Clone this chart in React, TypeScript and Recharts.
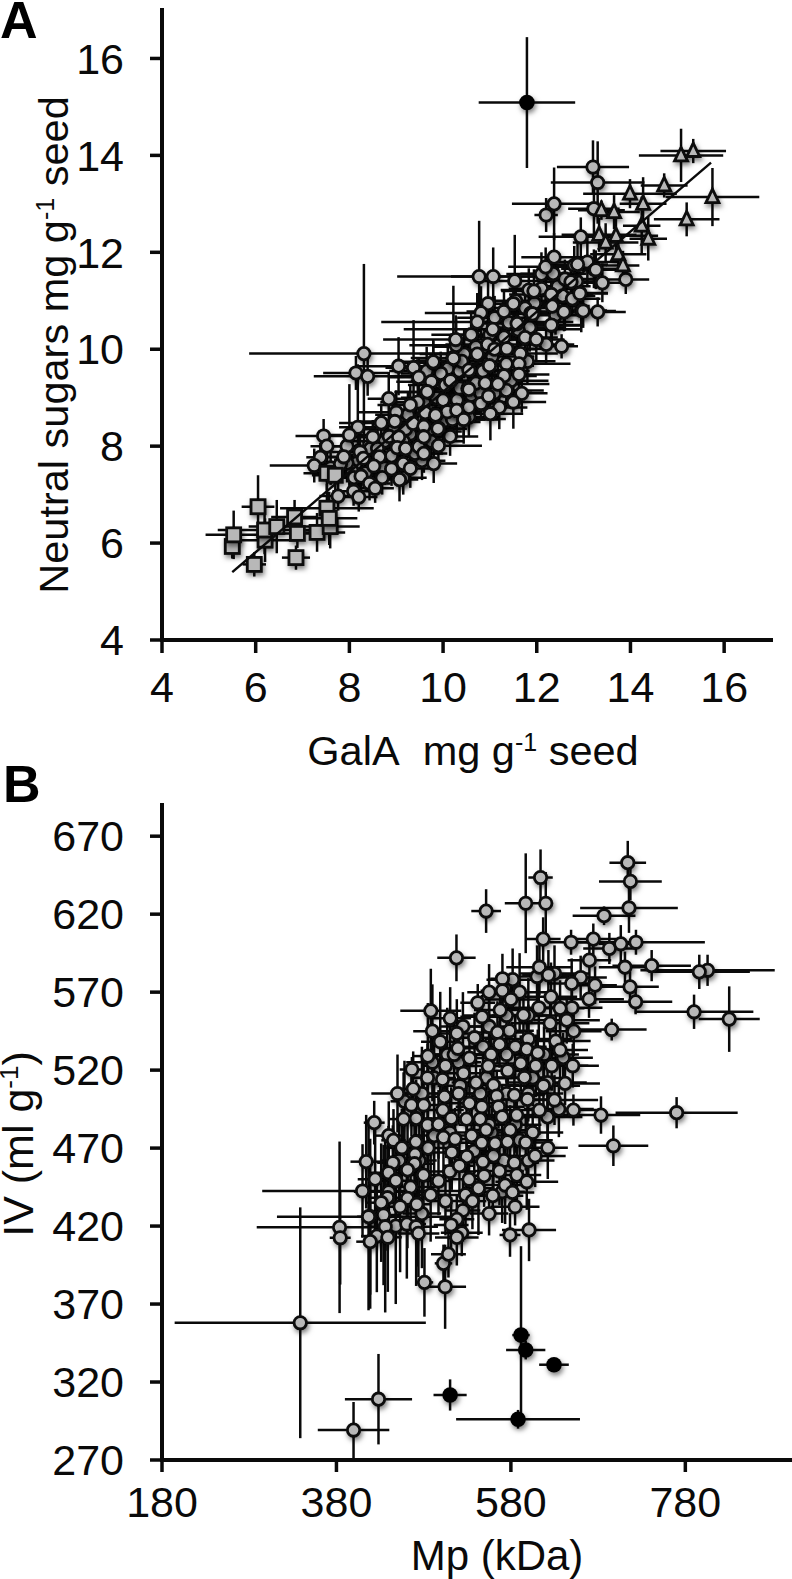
import { ScatterChart, Scatter, XAxis, YAxis, ErrorBar } from "recharts";

const FONT = "'Liberation Sans', Arial, sans-serif";

type Row = [number, number, number, number]; // x, y, x error, y error

// panel A
const xTicksA = [4, 6, 8, 10, 12, 14, 16];
const yTicksA = [4, 6, 8, 10, 12, 14, 16];

const circlesA: Row[] = [
  [9.05, 8.05, 0.7, 0.4], [9.3, 8.25, 0.65, 0.35], [9.7, 8.3, 0.7, 0.4], [10.0, 8.5, 0.8, 0.4], [10.3, 8.95, 0.75, 0.4],
  [10.6, 9.05, 0.8, 0.45], [10.8, 9.1, 0.9, 0.4], [11.1, 9.1, 0.8, 0.4], [11.35, 9.7, 0.85, 0.45], [11.05, 9.85, 0.9, 0.5],
  [10.7, 10.05, 0.9, 0.5], [10.45, 9.9, 0.95, 0.5], [10.1, 9.6, 0.9, 0.5], [10.35, 9.55, 0.85, 0.45], [9.85, 9.0, 0.75, 0.4],
  [9.55, 8.75, 0.7, 0.4], [9.25, 8.65, 0.7, 0.45], [8.95, 8.35, 0.65, 0.4], [8.75, 8.1, 0.7, 0.4], [8.45, 7.95, 0.55, 0.4],
  [8.15, 7.65, 0.55, 0.4], [8.75, 7.55, 0.5, 0.35], [9.15, 7.35, 0.5, 0.35], [9.55, 7.7, 0.5, 0.4], [10.15, 8.2, 0.6, 0.4],
  [10.55, 8.6, 0.65, 0.4], [11.2, 8.8, 0.6, 0.45], [11.45, 9.35, 0.8, 0.4], [11.8, 9.75, 0.6, 0.45], [12.2, 10.1, 0.6, 0.4],
  [12.4, 10.7, 0.65, 0.4], [11.85, 10.45, 0.75, 0.5], [11.4, 10.55, 0.8, 0.5], [11.0, 10.3, 0.85, 0.55], [12.1, 11.55, 0.75, 0.45],
  [12.45, 11.3, 0.7, 0.45], [12.85, 11.4, 0.6, 0.45], [7.6, 7.55, 0.45, 0.35], [7.95, 8.0, 0.5, 0.4], [8.05, 7.5, 0.5, 0.35],
  [10.35, 9.2, 0.8, 0.4], [10.7, 9.3, 0.9, 0.45], [10.4, 9.75, 1, 0.5], [10.85, 9.55, 1, 0.45],
  [10.0, 8.95, 0.8, 0.4], [9.6, 8.9, 0.7, 0.4], [9.2, 8.35, 0.7, 0.4], [8.85, 8.2, 0.75, 0.35],
  [8.6, 7.95, 0.7, 0.4], [9.4, 7.85, 0.6, 0.35], [9.75, 8.1, 0.7, 0.4], [8.35, 7.45, 0.6, 0.35],
  [8.7, 7.35, 0.55, 0.35], [10.6, 10.3, 0.85, 0.45], [10.95, 10.1, 0.9, 0.5], [11.3, 10.25, 0.8, 0.45],
  [11.6, 10.4, 0.75, 0.45], [11.1, 10.65, 0.8, 0.45], [11.55, 11.0, 0.7, 0.45], [11.95, 10.95, 0.7, 0.4],
  [12.1, 11.25, 0.7, 0.4], [12.6, 11.45, 0.6, 0.4], [12.55, 11.1, 0.7, 0.4], [11.75, 10.85, 0.7, 0.4],
  [10.9, 9.3, 0.8, 0.4], [11.3, 9.45, 0.7, 0.4], [11.35, 9.15, 0.8, 0.35], [10.2, 8.55, 0.7, 0.4],
  [10.55, 8.8, 0.8, 0.4], [9.95, 9.5, 0.85, 0.45], [9.65, 9.55, 0.8, 0.5], [9.0, 8.7, 0.8, 0.45],
  [8.9, 7.8, 0.55, 0.35], [8.1, 7.35, 0.5, 0.4], [7.95, 7.65, 0.5, 0.4], [9.15, 8.1, 0.65, 0.35],
  [8.31, 9.91, 2.45, 1.85], [8.14, 9.51, 0.7, 0.35], [8.39, 9.44, 1.15, 0.4], [9.05, 9.65, 0.9, 0.6],
  [9.37, 9.62, 0.6, 0.98], [9.79, 9.72, 0.7, 0.45], [10.21, 9.82, 0.9, 0.5], [10.28, 10.08, 1.0, 0.55],
  [9.48, 9.42, 0.65, 0.4], [9.75, 9.33, 0.75, 0.4], [10.16, 9.35, 0.85, 0.4], [10.53, 9.19, 0.9, 0.45],
  [9.67, 9.12, 0.7, 0.4], [10.05, 9.26, 0.8, 0.45], [8.84, 8.98, 0.45, 0.55], [9.46, 8.91, 0.8, 0.4],
  [9.3, 8.85, 0.7, 0.4], [10.29, 8.74, 0.8, 0.4], [10.44, 8.56, 0.9, 0.4], [9.85, 8.64, 0.65, 0.4],
  [9.62, 8.69, 0.7, 0.45], [8.68, 8.48, 0.9, 0.4], [8.97, 8.51, 0.8, 0.45], [9.36, 8.47, 0.7, 0.4],
  [9.59, 8.41, 0.7, 0.4], [9.91, 8.36, 0.6, 0.45], [10.09, 8.71, 0.7, 0.4], [8.18, 8.39, 0.4, 1.3],
  [8.0, 8.23, 0.5, 1.05], [7.45, 8.21, 0.6, 0.35], [7.52, 8.0, 0.35, 0.3], [7.38, 7.77, 0.3, 0.3],
  [7.25, 7.6, 0.95, 0.35], [8.5, 8.19, 0.5, 0.35], [9.05, 8.19, 0.6, 0.4], [9.57, 8.19, 0.55, 0.4],
  [9.02, 7.97, 0.5, 0.35], [9.2, 7.95, 0.6, 0.4], [9.48, 7.99, 0.5, 0.4], [9.9, 8.01, 0.93, 0.45],
  [8.23, 7.88, 0.6, 0.4], [8.64, 7.78, 0.65, 0.35], [8.3, 7.75, 0.55, 0.35], [7.81, 7.63, 0.5, 0.3],
  [7.88, 7.78, 0.45, 0.35], [8.52, 7.59, 0.55, 0.35], [8.9, 7.53, 0.45, 0.35], [9.15, 7.64, 0.5, 0.45],
  [9.3, 7.54, 0.5, 0.4], [9.8, 7.64, 0.5, 0.4], [9.59, 7.85, 0.5, 0.4], [8.25, 7.38, 0.45, 0.35],
  [8.43, 7.23, 0.45, 0.35], [9.07, 7.31, 0.4, 0.45], [8.55, 7.13, 0.4, 0.3], [8.09, 7.07, 0.45, 0.3],
  [8.2, 6.95, 0.4, 0.3], [7.76, 6.97, 0.4, 0.3],
  [10.77, 11.5, 1.75, 1.15], [11.07, 11.5, 0.9, 0.6], [11.53, 11.41, 0.7, 0.95], [11.83, 11.22, 0.6, 0.45],
  [12.35, 11.56, 0.7, 0.45], [12.31, 11.13, 0.9, 0.4], [12.92, 11.16, 0.6, 0.4], [12.6, 10.78, 0.8, 0.4],
  [12.95, 10.8, 0.55, 0.45], [13.3, 10.77, 0.6, 0.3], [13.22, 11.66, 0.7, 0.4], [12.8, 11.73, 0.7, 0.4],
  [10.96, 10.94, 0.9, 0.6], [10.81, 10.75, 1.2, 0.55], [10.73, 10.56, 2.05, 0.6], [11.3, 10.78, 0.8, 0.45],
  [11.5, 10.94, 0.8, 0.5], [11.87, 10.74, 0.75, 0.45], [12.33, 10.89, 0.8, 0.45], [11.58, 10.53, 0.7, 0.5],
  [12.32, 10.49, 0.6, 0.35], [11.06, 10.41, 1.9, 0.6], [11.75, 10.24, 0.7, 0.5], [11.99, 10.2, 0.6, 0.45],
  [12.53, 10.06, 0.35, 0.25], [10.27, 10.2, 1.55, 0.5], [10.22, 9.81, 0.8, 1.5], [10.73, 9.9, 0.95, 0.5],
  [11.1, 10.0, 0.9, 0.5], [11.36, 10.01, 0.85, 0.45], [10.99, 9.66, 0.95, 0.45], [10.55, 9.57, 1.0, 0.4],
  [11.65, 9.91, 0.8, 0.4], [11.62, 9.7, 1.1, 0.45], [11.62, 9.48, 0.65, 0.4], [9.79, 9.74, 0.8, 0.45],
  [10.16, 9.35, 0.8, 0.4], [9.66, 9.12, 0.7, 0.4], [10.55, 9.17, 0.85, 0.45], [11.17, 9.28, 1.1, 0.4],
  [11.68, 9.09, 0.55, 0.4], [11.5, 8.91, 0.7, 0.55], [10.81, 8.88, 0.8, 0.35], [10.97, 9.03, 0.75, 0.4],
  [10.29, 8.74, 0.7, 0.55], [9.84, 8.64, 0.6, 0.45], [10.44, 8.55, 0.75, 0.5], [11.01, 8.67, 0.7, 0.55],
  [9.89, 8.36, 0.6, 0.45], [9.59, 8.19, 0.55, 0.4],
  [12.19, 11.7, 0.8, 0.4], [11.94, 11.2, 0.7, 0.45], [11.91, 10.73, 0.7, 0.4], [12.76, 11.04, 0.6, 0.35],
  [12.73, 11.39, 0.6, 0.4], [12.37, 11.9, 0.7, 0.5], [13.08, 11.8, 0.65, 0.5], [13.26, 11.64, 0.55, 0.4],
  [12.87, 11.75, 0.65, 0.45], [13.9, 11.44, 0.5, 0.3], [13.4, 11.37, 0.55, 0.4], [12.92, 11.15, 0.6, 0.45],
  [12.58, 10.77, 0.6, 0.4], [12.99, 10.79, 0.7, 0.35], [12.31, 10.5, 0.7, 0.4],
  [13.22, 12.9, 0.55, 0.55], [12.94, 12.32, 0.9, 0.4], [12.2, 12.77, 0.25, 0.35], [12.37, 13.0, 0.9, 0.75],
  [13.3, 13.44, 1.0, 0.85], [13.2, 13.76, 0.77, 0.55],
];

const squaresA: Row[] = [
  [5.5, 5.93, 0.1, 0.25], [5.53, 6.17, 0.6, 0.5], [5.97, 5.56, 0.25, 0.25], [6.05, 6.75, 0.35, 0.65],
  [6.2, 6.06, 0.7, 0.45], [6.19, 6.27, 1.0, 0.5], [6.45, 6.34, 0.6, 0.55], [6.83, 6.54, 0.5, 0.35],
  [6.89, 6.2, 0.5, 0.3], [6.86, 5.7, 0.3, 0.25], [7.31, 6.22, 0.6, 0.4], [7.52, 6.72, 1.0, 0.5],
  [7.59, 6.34, 0.63, 0.45], [7.57, 6.51, 0.6, 0.55], [7.52, 7.44, 0.5, 0.35], [7.7, 7.4, 0.5, 0.35],
];

const trianglesA: Row[] = [
  [15.08, 14.0, 0.9, 0.55], [15.34, 14.09, 0.7, 0.25], [14.72, 13.38, 0.5, 0.25], [13.99, 13.21, 1.0, 0.3],
  [14.27, 13.0, 0.5, 0.55], [15.75, 13.14, 1.0, 0.6], [13.38, 12.87, 0.5, 0.2], [13.65, 12.83, 0.55, 0.35],
  [14.24, 12.55, 0.4, 0.6], [15.2, 12.68, 0.7, 0.35], [13.33, 12.36, 0.8, 0.35], [13.69, 12.34, 0.9, 0.5],
  [14.38, 12.28, 0.4, 0.45], [13.47, 12.2, 0.7, 0.4], [13.74, 11.96, 0.6, 0.35], [13.84, 11.73, 0.35, 0.3],
];

const blackA: Row[] = [[11.79, 15.09, 1.03, 1.35]];

const fitA = [
  { x: 5.5, y: 5.4 },
  { x: 15.72, y: 13.85 },
];

// panel B
const xTicksB = [180, 380, 580, 780];
const yTicksB = [270, 320, 370, 420, 470, 520, 570, 620, 670];

const circlesB: Row[] = [
  [478, 505, 22, 30], [492, 515, 25, 28], [507, 530, 24, 30], [525, 548, 26, 22], [555, 548, 28, 20], [585, 535, 36, 20],
  [618, 530, 40, 18], [600, 505, 40, 18], [575, 505, 36, 18], [552, 515, 30, 18], [522, 510, 26, 18], [492, 478, 24, 28],
  [510, 480, 24, 22], [538, 468, 26, 22], [558, 480, 28, 18], [585, 485, 30, 18], [605, 480, 35, 16], [622, 490, 40, 14],
  [570, 442, 26, 20], [555, 428, 22, 14], [525, 430, 20, 20], [505, 436, 18, 22], [488, 440, 22, 30], [478, 428, 22, 35],
  [448, 420, 20, 50], [452, 462, 20, 30], [440, 478, 16, 22], [468, 508, 18, 24], [458, 500, 16, 26], [532, 450, 24, 22],
  [612, 560, 40, 20], [600, 555, 42, 24], [582, 578, 30, 20], [555, 570, 25, 18], [630, 582, 40, 18], [652, 545, 32, 16],
  [640, 528, 34, 16], [520, 525, 26, 20], [545, 505, 30, 16], [490, 545, 22, 30], [475, 462, 20, 30], [600, 462, 30, 15],
  [490, 525, 30, 25], [515, 530, 35, 22], [548, 535, 30, 20], [575, 530, 40, 18], [605, 515, 40, 18],
  [520, 505, 30, 20], [555, 485, 35, 22], [590, 475, 38, 20], [485, 470, 35, 25], [510, 455, 30, 20],
  [535, 478, 35, 18], [600, 540, 50, 22], [625, 550, 45, 20], [650, 560, 35, 18], [610, 580, 45, 20],
  [590, 570, 40, 25], [575, 555, 50, 22], [440, 442, 40, 30], [465, 445, 32, 28], [528, 440, 30, 25],
  [572, 462, 32, 20], [622, 512, 45, 18], [635, 495, 40, 18], [560, 465, 30, 22], [450, 505, 30, 25],
  [614, 643.5, 14, 18], [620, 627, 5, 20], [597, 627, 24, 32], [551.6, 622, 17, 14], [517.6, 592, 22, 15],
  [714, 653, 21, 14], [717, 641, 36, 12], [715.4, 624, 56, 16], [686.8, 619, 36, 6], [617, 604, 20, 14],
  [649, 602, 25, 8], [674.5, 604, 30, 10], [692.9, 598, 30, 10], [706, 601, 25, 12], [723.4, 602, 79, 8],
  [670, 590.5, 25, 15], [710.8, 586, 30, 10], [741.4, 587, 45, 10], [805.5, 584, 77, 10], [796, 583, 58, 11],
  [612.7, 586, 38, 18], [623, 581, 30, 16], [570.3, 578.6, 14, 16], [660, 579.4, 30, 14], [649.7, 575.6, 28, 16],
  [676.5, 574.5, 25, 12], [716.6, 573.4, 33, 10], [626, 567, 30, 22], [570.3, 570.9, 25, 12], [580, 565.3, 30, 14],
  [669.6, 565.5, 40, 12], [723, 563.8, 42, 8], [636.4, 559.6, 28, 18], [542, 563.2, 20, 12], [488.2, 558, 35, 27],
  [567.7, 558.5, 30, 15], [594.4, 555.3, 22, 16], [644, 552, 38, 15], [547, 554.2, 25, 14], [510.4, 553.2, 24, 20],
  [790, 557.4, 68, 11], [830.3, 552.7, 35, 21], [695.6, 546, 40, 7], [578.3, 545.2, 28, 18], [564.6, 544.2, 30, 20],
  [518, 543.5, 25, 22], [538.3, 540.8, 22, 16], [499, 538.2, 22, 32], [631.4, 538.6, 40, 18], [567, 536.5, 30, 15],
  [519.2, 534, 22, 18], [598.2, 533.3, 35, 22], [636.4, 532.9, 32, 20], [484.8, 529, 18, 34], [557.3, 530, 30, 15],
  [532.5, 527.7, 28, 16], [610.8, 531, 35, 15], [505, 522.8, 28, 16], [591.3, 524.3, 32, 18], [608.5, 522.8, 36, 20],
  [626.8, 522.8, 42, 16], [650.9, 522.8, 30, 14], [466.5, 520.4, 14, 8], [576.4, 519.6, 25, 18], [554, 522.6, 30, 14],
  [540, 512, 28, 18], [484.4, 515.1, 18, 22], [501.6, 514, 22, 20], [595.5, 515.3, 35, 18], [642.1, 511.5, 40, 14],
  [617.3, 510, 42, 18], [525.6, 518, 24, 16], [560, 510.4, 30, 16], [584, 504, 35, 20], [503.9, 503, 25, 20],
  [563.8, 503.4, 30, 16], [599, 501.2, 36, 18], [630, 500.8, 50, 16], [532.5, 498.7, 28, 14], [466, 497.6, 14, 20],
  [480, 497.6, 20, 35], [546.7, 496.5, 30, 18], [612.7, 494.4, 40, 16], [651.7, 494.4, 28, 10], [502, 494.4, 24, 18],
  [770, 492.7, 70, 10], [565.8, 496.5, 30, 14], [683.3, 491.2, 45, 12], [586.7, 491.2, 40, 16], [570, 490, 32, 20],
  [471.4, 489, 18, 25], [457, 488.6, 16, 30], [511.6, 489, 25, 20], [529.2, 488.6, 24, 22], [544.7, 488.6, 28, 22],
  [484.4, 484.8, 20, 24], [497, 485.2, 22, 22], [423.3, 486.3, 12, 14], [551.6, 481.6, 22, 18], [579.1, 481.5, 24, 16],
  [502.7, 476.9, 20, 25], [516, 475.8, 22, 20], [546.6, 473.4, 25, 18], [562, 473, 22, 20], [576.1, 474, 26, 14],
  [597, 473.6, 28, 18], [471, 474, 18, 30], [445.4, 475, 14, 20], [455, 470.2, 18, 25], [512.2, 467.2, 22, 24],
  [470.2, 466, 20, 32], [529.4, 464.5, 25, 22], [622.3, 470.2, 23, 20], [547.8, 461.2, 26, 18], [584, 460.6, 28, 15],
  [607.8, 465, 35, 20], [521, 458.7, 18, 20], [444.7, 460.6, 18, 24], [469.5, 460, 22, 28], [414.1, 461.3, 18, 30],
  [461.5, 456, 22, 30], [479.8, 452.7, 20, 35], [549.3, 452.3, 24, 20], [439.7, 454.2, 22, 30], [424.4, 450.1, 20, 35],
  [448.1, 449.1, 20, 30], [497, 448.9, 16, 22], [566.9, 455.3, 28, 22], [586.8, 452.7, 28, 18], [598.2, 448.4, 36, 18],
  [573.4, 446.3, 24, 25], [542.8, 444.2, 18, 30], [581.8, 441.6, 25, 14], [409.9, 442.5, 115, 30], [559.2, 439.5, 35, 12],
  [461.4, 437.8, 22, 32], [438.5, 438.2, 20, 34], [535.9, 436, 16, 18], [431.3, 435, 18, 38], [584.8, 432.4, 28, 12],
  [453, 432.4, 20, 42], [472.1, 434, 16, 40], [434, 427.1, 20, 45], [418.7, 426, 15, 50], [416.8, 426, 105, 60],
  [518, 424.3, 20, 16], [460.7, 421.3, 22, 35], [471.4, 419.6, 25, 38], [511.5, 420.7, 20, 18], [435.9, 419.6, 18, 55],
  [523.7, 415.7, 24, 15], [600.8, 417.5, 31, 20], [383.6, 419.2, 95, 55], [579, 414.3, 12, 14], [474, 415.3, 24, 28],
  [426.3, 413.6, 18, 36], [438.9, 412.8, 16, 35], [384.3, 412.5, 12, 30], [518, 412.7, 25, 18], [418.7, 410, 16, 43],
  [502.7, 396.1, 10, 12], [508.4, 402, 20, 15], [480.9, 383.9, 10, 22], [504.6, 381.1, 24, 27],
  [338.5, 358, 144, 74], [428.2, 309, 38.5, 29], [399.6, 289.2, 41, 18], [697.5, 471.5, 40, 13],
];

const blackB: Row[] = [
  [510.3, 311.7, 19, 10], [588.2, 296.1, 71, 6], [591.6, 350.1, 10, 57], [597, 340.5, 22.5, 6], [629.4, 331.1, 17, 2],
];

const toPoints = (rows: Row[]) =>
  rows.map(([x, y, xe, ye]) => ({ x, y, xe, ye }));

const GRAY = "#b8b8b8";
const INK = "#0a0a0a";

function Dot(props: any) {
  return (
    <circle cx={props.cx} cy={props.cy} r={6.2} fill={GRAY} stroke={INK} strokeWidth={2.8} filter="url(#soft)" />
  );
}

function BlackDot(props: any) {
  return <circle cx={props.cx} cy={props.cy} r={7.8} fill="#000" filter="url(#soft)" />;
}

function SquareMark(props: any) {
  return (
    <rect x={props.cx - 7} y={props.cy - 7} width={14} height={14} fill={GRAY} stroke={INK} strokeWidth={2.8} filter="url(#soft)" />
  );
}

function TriangleMark(props: any) {
  const { cx, cy } = props;
  return (
    <path
      d={`M${cx} ${cy - 8}L${cx + 6.5} ${cy + 5.5}L${cx - 6.5} ${cy + 5.5}Z`}
      fill={GRAY}
      stroke={INK}
      strokeWidth={2.8}
      strokeLinejoin="miter"
      filter="url(#soft)"
    />
  );
}

function NoMark() {
  return null;
}

const axisLine = { stroke: INK, strokeWidth: 4, strokeLinecap: "square" as const };
const tickLine = { stroke: INK, strokeWidth: 3.5 };
const tick = { fontSize: 43, fontFamily: FONT, fill: INK };

function series(rows: Row[], shape: any, name: string) {
  return (
    <Scatter key={name} name={name} data={toPoints(rows)} shape={shape} isAnimationActive={false}>
      <ErrorBar dataKey="xe" direction="x" width={0} stroke={INK} strokeWidth={2.5} isAnimationActive={false} />
      <ErrorBar dataKey="ye" direction="y" width={0} stroke={INK} strokeWidth={2.5} isAnimationActive={false} />
    </Scatter>
  );
}

function Soft() {
  return (
    <defs>
      <filter id="soft" x="-100%" y="-100%" width="300%" height="300%">
        <feDropShadow dx="1.5" dy="3" stdDeviation="2.8" floodColor="#000" floodOpacity="0.5" />
      </filter>
    </defs>
  );
}

export default function App() {
  return (
    <div style={{ position: "absolute", left: 0, top: 0, width: 792, height: 1579, background: "#fff", overflow: "hidden" }}>
      <div style={{ position: "absolute", left: 0, top: 0 }}>
        <ScatterChart width={792} height={760} margin={{ top: 10, right: 21, bottom: 0, left: 0 }}>
          <Soft />
          <XAxis
            type="number"
            dataKey="x"
            domain={[4, 17]}
            ticks={xTicksA}
            interval={0}
            height={120}
            tickSize={13}
            tickMargin={18}
            tick={tick}
            tickLine={tickLine}
            axisLine={axisLine}
          />
          <YAxis
            type="number"
            dataKey="y"
            domain={[4, 17]}
            ticks={yTicksA}
            interval={0}
            width={162}
            tickSize={12}
            tickMargin={26}
            tick={tick}
            tickLine={tickLine}
            axisLine={axisLine}
          />
          {series(circlesA, Dot, "circles")}
          {series(squaresA, SquareMark, "squares")}
          {series(trianglesA, TriangleMark, "triangles")}
          {series(blackA, BlackDot, "black")}
          <Scatter
            name="fit"
            data={fitA}
            line={{ stroke: INK, strokeWidth: 2.4 }}
            shape={NoMark}
            isAnimationActive={false}
          />
          <text x={0} y={38} fontSize={52} fontWeight="bold" fontFamily={FONT} fill="#000">A</text>
        </ScatterChart>
      </div>
      <div style={{ position: "absolute", left: 0, top: 0, pointerEvents: "none" }}>
        <svg width={792} height={790} style={{ display: "block" }}>
          <text x={473} y={765} textAnchor="middle" fontSize={41.5} fontFamily={FONT} fill={INK}>
            GalA{"\u00a0\u00a0"}mg g<tspan fontSize={25} dy={-14}>-1</tspan><tspan dy={14}> seed</tspan>
          </text>
          <text
            transform="translate(68 345) rotate(-90)"
            textAnchor="middle"
            fontSize={41.5}
            fontFamily={FONT}
            fill={INK}
          >
            Neutral sugars mg g<tspan fontSize={25} dy={-14}>-1</tspan><tspan dy={14}> seed</tspan>
          </text>
        </svg>
      </div>
      <div style={{ position: "absolute", left: 0, top: 760 }}>
        <ScatterChart width={792} height={819} margin={{ top: 45, right: 2, bottom: 0, left: 0 }}>
          <Soft />
          <XAxis
            type="number"
            dataKey="x"
            domain={[180, 900]}
            ticks={xTicksB}
            interval={0}
            height={119}
            tickSize={12}
            tickMargin={14}
            tick={tick}
            tickLine={tickLine}
            axisLine={axisLine}
          />
          <YAxis
            type="number"
            dataKey="y"
            domain={[270, 690]}
            ticks={yTicksB}
            interval={0}
            width={162}
            tickSize={12}
            tickMargin={26}
            tick={tick}
            tickLine={tickLine}
            axisLine={axisLine}
          />
          {series(circlesB, Dot, "circles")}
          {series(blackB, BlackDot, "black")}
          <text x={3} y={42} fontSize={52} fontWeight="bold" fontFamily={FONT} fill="#000">B</text>
          <text x={497} y={810} textAnchor="middle" fontSize={42} fontFamily={FONT} fill={INK}>Mp (kDa)</text>
          <text
            transform="translate(33 384) rotate(-90)"
            textAnchor="middle"
            fontSize={43}
            fontFamily={FONT}
            fill={INK}
          >
            IV (ml g<tspan fontSize={26} dy={-15}>-1</tspan><tspan dy={15}>)</tspan>
          </text>
        </ScatterChart>
      </div>
    </div>
  );
}
